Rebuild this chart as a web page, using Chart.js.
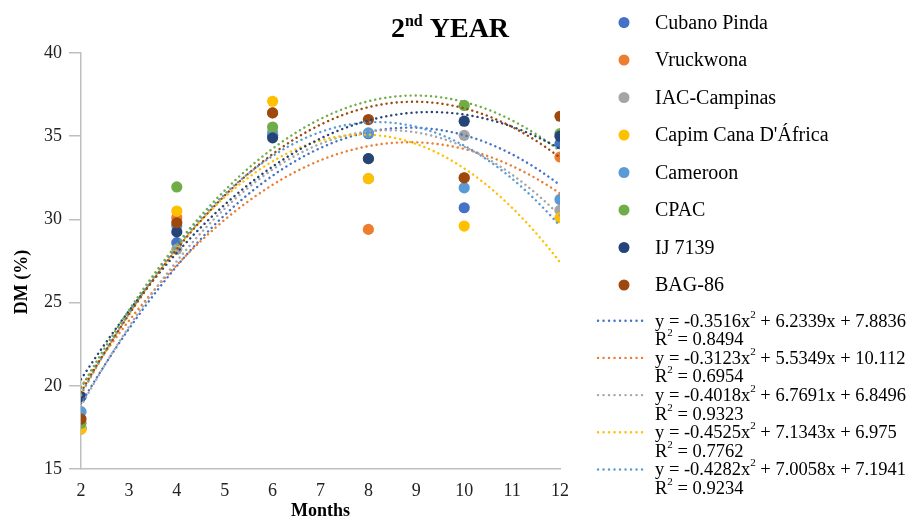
<!DOCTYPE html>
<html><head><meta charset="utf-8">
<style>html,body{margin:0;padding:0;background:#fff;}#wrap{width:911px;height:519px;position:relative;}</style>
<script src="https://cdn.jsdelivr.net/npm/chart.js@4.4.1/dist/chart.umd.min.js"></script>
</head><body><div id="wrap"><canvas id="c" width="911" height="519"></canvas></div>
<script>
// ---- data ----
const months = [2, 4, 6, 8, 10, 12];
const seriesNames = ['Cubano Pinda', 'Vruckwona', 'IAC-Campinas', "Capim Cana D'África", 'Cameroon', 'CPAC', 'IJ 7139', 'BAG-86'];
const seriesColors = ['#4472C4', '#ED7D31', '#A5A5A5', '#FFC000', '#5B9BD5', '#70AD47', '#264478', '#9E480E'];
const cubanoPinda = [17.45, 28.6, 35.05, 35.15, 30.7, 34.55];
const vruckwona   = [17.4, 30.1, 36.4, 29.4, 32.5, 33.75];
const iacCampinas = [17.45, 28.2, 35.25, 32.45, 35.05, 30.55];
const capimCana   = [17.4, 30.5, 37.1, 32.45, 29.6, 30.1];
const cameroon    = [18.45, 29.6, 35.1, 35.2, 31.9, 31.2];
const cpac        = [17.75, 31.95, 35.55, 33.65, 36.85, 35.15];
const ij7139      = [19.35, 29.25, 34.9, 33.65, 35.9, 35.0];
const bag86       = [18.0, 29.8, 36.4, 36.0, 32.5, 36.2];
const seriesValues = [cubanoPinda, vruckwona, iacCampinas, capimCana, cameroon, cpac, ij7139, bag86];
// trendline equations shown in the legend (first five series)
const trendA  = [-0.3516, -0.3123, -0.4018, -0.4525, -0.4282];
const trendB  = [6.2339, 5.5349, 6.7691, 7.1343, 7.0058];
const trendC  = [7.8836, 10.112, 6.8496, 6.975, 7.1941];
const trendR2 = ['0.8494', '0.6954', '0.9323', '0.7762', '0.9234'];
const xTicks = [2, 3, 4, 5, 6, 7, 8, 9, 10, 11, 12];
const yTicks = [15, 20, 25, 30, 35, 40];
const titleMain = '2', titleSup = 'nd', titleRest = ' YEAR';
const xTitle = 'Months', yTitle = 'DM (%)';

const SERIF = '"Liberation Serif", "Times New Roman", serif';

// least-squares quadratic fit (for series whose equation is not shown)
function quadFit(xs, ys) {
  let s = [0,0,0,0,0], t = [0,0,0];
  for (let i = 0; i < xs.length; i++) {
    const x = xs[i], y = ys[i];
    for (let k = 0; k < 5; k++) s[k] += Math.pow(x, k);
    for (let k = 0; k < 3; k++) t[k] += Math.pow(x, k) * y;
  }
  const M = [[s[4], s[3], s[2]], [s[3], s[2], s[1]], [s[2], s[1], s[0]]];
  const v = [t[2], t[1], t[0]];
  const det = m => m[0][0]*(m[1][1]*m[2][2]-m[1][2]*m[2][1]) - m[0][1]*(m[1][0]*m[2][2]-m[1][2]*m[2][0]) + m[0][2]*(m[1][0]*m[2][1]-m[1][1]*m[2][0]);
  const D = det(M);
  const rep = c => M.map((row, r) => row.map((val, j) => j === c ? v[r] : val));
  return [det(rep(0))/D, det(rep(1))/D, det(rep(2))/D];
}

const datasets = [];
seriesNames.forEach((name, i) => {
  datasets.push({
    label: name,
    data: months.map((m, j) => ({x: m, y: seriesValues[i][j]})),
    backgroundColor: seriesColors[i],
    borderColor: seriesColors[i],
    borderWidth: 0,
    pointRadius: 5.6,
    pointHoverRadius: 5.6,
    showLine: false,
    order: 30 - i
  });
});
seriesNames.forEach((name, i) => {
  const coef = i < trendA.length ? [trendA[i], trendB[i], trendC[i]] : quadFit(months, seriesValues[i]);
  const pts = [];
  for (let k = 0; k <= 100; k++) {
    const x = months[0] + (months[months.length-1] - months[0]) * k / 100;
    pts.push({x: x, y: coef[0]*x*x + coef[1]*x + coef[2]});
  }
  datasets.push({
    label: 'Trend ' + name,
    data: pts,
    showLine: true,
    borderColor: seriesColors[i],
    borderWidth: 2.4,
    borderDash: [0.1, 5],
    borderCapStyle: 'round',
    pointRadius: 0,
    fill: false,
    tension: 0,
    order: 10 - i
  });
});

function drawSupText(ctx, x, y, parts) {
  let cx = x;
  parts.forEach(p => {
    ctx.font = p[2];
    ctx.fillText(p[0], cx, p[1] ? y - p[3] : y);
    cx += ctx.measureText(p[0]).width;
  });
  return cx;
}

const overlayPlugin = {
  id: 'overlay',
  afterDraw(chart) {
    const ctx = chart.ctx;
    ctx.save();
    ctx.fillStyle = '#000';
    // title
    ctx.textBaseline = 'alphabetic';
    ctx.textAlign = 'left';
    const fBig = 'bold 28px ' + SERIF, fSup = 'bold 16px ' + SERIF;
    ctx.font = fBig; const w1 = ctx.measureText(titleMain).width + ctx.measureText(titleRest).width;
    ctx.font = fSup; const w2 = ctx.measureText(titleSup).width;
    let tx = 450 - (w1 + w2) / 2;
    drawSupText(ctx, tx, 37, [[titleMain, false, fBig, 0], [titleSup, true, fSup, 11], [titleRest, false, fBig, 0]]);
    // y axis title
    ctx.save();
    ctx.translate(22, 282);
    ctx.rotate(-Math.PI / 2);
    ctx.textAlign = 'center';
    ctx.textBaseline = 'middle';
    ctx.font = 'bold 18px ' + SERIF;
    ctx.fillText(yTitle, 0, 0);
    ctx.restore();
    // legend markers
    ctx.textBaseline = 'middle';
    seriesNames.forEach((name, i) => {
      const y = 22.5 + 37.5 * i;
      ctx.beginPath();
      ctx.fillStyle = seriesColors[i];
      ctx.arc(624, y, 5.5, 0, Math.PI * 2);
      ctx.fill();
      ctx.fillStyle = '#000';
      ctx.font = '20px ' + SERIF;
      ctx.fillText(name, 655, y + 1);
    });
    // trendline legend entries
    const fEq = '18.5px ' + SERIF, fEqSup = '11px ' + SERIF;
    trendA.forEach((a, k) => {
      const y = 320.7 + 37.2 * k;
      ctx.save();
      ctx.strokeStyle = seriesColors[k];
      ctx.lineWidth = 2.4;
      ctx.lineCap = 'round';
      ctx.setLineDash([0.1, 5.4]);
      ctx.beginPath();
      ctx.moveTo(598, y);
      ctx.lineTo(644, y);
      ctx.stroke();
      ctx.restore();
      ctx.fillStyle = '#000';
      drawSupText(ctx, 655, y + 1, [
        ['y = ' + String(a) + 'x', false, fEq, 0],
        ['2', true, fEqSup, 7],
        [' + ' + String(trendB[k]) + 'x + ' + String(trendC[k]), false, fEq, 0]
      ]);
      drawSupText(ctx, 655, y + 19.6, [
        ['R', false, fEq, 0],
        ['2', true, fEqSup, 7],
        [' = ' + trendR2[k], false, fEq, 0]
      ]);
    });
    ctx.restore();
  }
};

new Chart(document.getElementById('c'), {
  type: 'scatter',
  data: {datasets: datasets},
  options: {
    responsive: false,
    animation: false,
    events: [],
    layout: {padding: {left: 0, right: 351, top: 53, bottom: 0}},
    plugins: {legend: {display: false}, tooltip: {enabled: false}, title: {display: false}},
    scales: {
      x: {
        type: 'linear', min: 2, max: 12,
        afterBuildTicks: s => { s.ticks = xTicks.map(v => ({value: v})); },
        afterFit: s => { s.height = 50; },
        grid: {display: false},
        border: {display: true, color: '#BFBFBF', width: 1.5},
        ticks: {padding: 3.5, color: '#222', font: {family: SERIF, size: 18}},
        title: {display: true, text: xTitle, color: '#000', font: {family: SERIF, size: 18, weight: 'bold', lineHeight: 0.9}, padding: {top: 0, bottom: 0}}
      },
      y: {
        type: 'linear', min: 15, max: 40,
        afterBuildTicks: s => { s.ticks = yTicks.map(v => ({value: v})); },
        afterFit: s => { s.width = 81; },
        grid: {display: true, drawOnChartArea: false, drawTicks: true, tickLength: 12, color: '#BFBFBF', lineWidth: 1.5},
        border: {display: true, color: '#BFBFBF', width: 1.5},
        ticks: {padding: 7, color: '#222', font: {family: SERIF, size: 18}}
      }
    }
  },
  plugins: [overlayPlugin]
});
</script>
</body></html>
